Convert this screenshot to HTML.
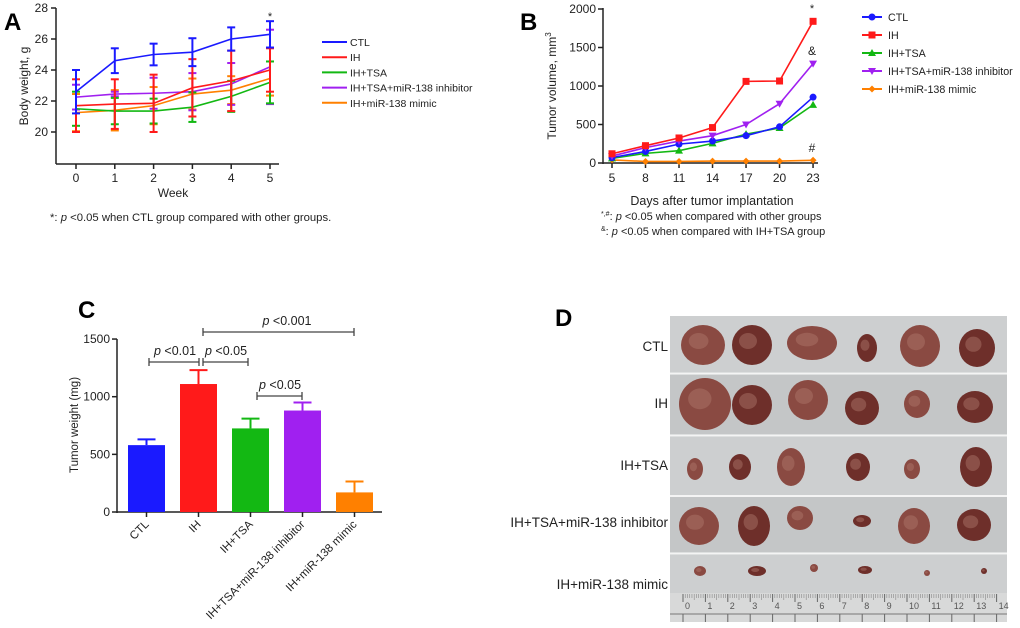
<!DOCTYPE html>
<html><head><meta charset="utf-8">
<style>
body{margin:0;background:#fff;width:1020px;height:628px;overflow:hidden;font-family:"Liberation Sans",Arial,sans-serif}
svg{position:absolute;left:0;top:0}
text{font-family:"Liberation Sans",Arial,sans-serif}
</style></head>
<body>
<svg id="fig" width="1020" height="628" viewBox="0 0 1020 628"></svg>
<script>
// ---------- Panel A data ----------
const weeks=[0,1,2,3,4,5];
const aCTL=[22.6,24.6,25.0,25.15,26.0,26.3];
const aCTLerr=[1.4,0.8,0.7,0.9,0.75,0.85];
const aIH=[21.7,21.8,21.85,22.85,23.3,24.0];
const aIHerr=[1.7,1.6,1.85,1.85,1.95,1.4];
const aTSA=[21.5,21.35,21.35,21.6,22.3,23.2];
const aTSAerr=[1.1,0.85,0.8,0.95,1.0,1.35];
const aINH=[22.25,22.45,22.5,22.6,23.1,24.2];
const aINHerr=[0.8,0.15,1.0,1.2,1.35,2.4];
const aMIM=[21.25,21.4,21.7,22.45,22.7,23.45];
const aMIMerr=[1.2,1.3,1.2,1.0,0.9,1.1];
const aYTicks=[20,22,24,26,28];
// ---------- Panel B data ----------
const days=[5,8,11,14,17,20,23];
const bCTL=[70,150,245,285,355,470,855];
const bIH=[120,225,325,460,1060,1065,1840];
const bTSA=[60,125,160,255,375,455,755];
const bINH=[90,200,285,355,500,770,1290];
const bMIM=[40,20,20,25,25,25,35];
const bYTicks=[0,500,1000,1500,2000];
// ---------- Panel C data ----------
const cCats=["CTL","IH","IH+TSA","IH+TSA+miR-138 inhibitor","IH+miR-138 mimic"];
const cVals=[580,1110,725,880,170];
const cErr=[50,120,85,70,95];
const cYTicks=[0,500,1000,1500];

const NS="http://www.w3.org/2000/svg";
const svg=document.getElementById('fig');
function mk(tag,attrs,parent){const e=document.createElementNS(NS,tag);for(const k in attrs)e.setAttribute(k,attrs[k]);(parent||svg).appendChild(e);return e;}
function txt(x,y,s,attrs,parent){const t=mk('text',Object.assign({x:x,y:y,'font-size':11,fill:'#222'},attrs||{}),parent);t.textContent=s;return t;}
const colors=["#1a1aff","#ff1a1a","#13b813","#a020f0","#ff8000"];
const names=["CTL","IH","IH+TSA","IH+TSA+miR-138 inhibitor","IH+miR-138 mimic"];

// ================= Panel A =================
const gA=mk('g',{});


const ax=w=>76+w*38.8;
const ay=v=>132-(v-20)*15.5;
txt(4,30,"A",{'font-size':24,'font-weight':'bold',fill:'#000'},gA);
mk('line',{x1:56,y1:8,x2:56,y2:164,stroke:'#222','stroke-width':1.5},gA);
mk('line',{x1:56,y1:164,x2:279,y2:164,stroke:'#222','stroke-width':1.5},gA);
aYTicks.forEach(v=>{mk('line',{x1:51,y1:ay(v),x2:56,y2:ay(v),stroke:'#222','stroke-width':1.5},gA);
 const t=txt(48,ay(v)+4,String(v),{'text-anchor':'end','font-size':12},gA);
 });
weeks.forEach(w=>{mk('line',{x1:ax(w),y1:164,x2:ax(w),y2:169,stroke:'#222','stroke-width':1.5},gA);
 const t=txt(ax(w),182,String(w),{'text-anchor':'middle','font-size':12},gA);
 });
const atx=txt(173,197,"Week",{'text-anchor':'middle','font-size':12},gA);

const aty=txt(0,0,"Body weight, g",{'text-anchor':'middle','font-size':12,transform:'translate(28,86) rotate(-90)'},gA);

txt(270,20,"*",{'text-anchor':'middle','font-size':11},gA);
const aSeries=[[aCTL,aCTLerr],[aIH,aIHerr],[aTSA,aTSAerr],[aINH,aINHerr],[aMIM,aMIMerr]];
[4,3,2,1,0].forEach(i=>{
 const [vals,errs]=aSeries[i];
 const g=mk('g',{},gA);
 
 
 vals.forEach((v,k)=>{const x=ax(weeks[k]);
  mk('line',{x1:x,y1:ay(v+errs[k]),x2:x,y2:ay(v-errs[k]),stroke:colors[i],'stroke-width':2},g);
  mk('line',{x1:x-4,y1:ay(v+errs[k]),x2:x+4,y2:ay(v+errs[k]),stroke:colors[i],'stroke-width':2},g);
  mk('line',{x1:x-4,y1:ay(v-errs[k]),x2:x+4,y2:ay(v-errs[k]),stroke:colors[i],'stroke-width':2},g);});
 mk('polyline',{points:vals.map((v,k)=>ax(weeks[k])+','+ay(v)).join(' '),fill:'none',stroke:colors[i],'stroke-width':1.6},g);
});
names.forEach((n,i)=>{const y=42+i*15.2;
 const g=mk('g',{},gA);
 
 
 mk('line',{x1:322,y1:y,x2:347,y2:y,stroke:colors[i],'stroke-width':2},g);
 txt(350,y+4,n,{'font-size':10.5},g);});
const an=txt(50,221,"",{'font-size':11.3},gA);

an.innerHTML='*: <tspan font-style="italic">p</tspan> &lt;0.05 when CTL group compared with other groups.';

// ================= Panel B =================
const gB=mk('g',{});


const bx=d=>612+(d-5)*11.17;
const by=v=>163-v*0.077;
txt(520,30,"B",{'font-size':24,'font-weight':'bold',fill:'#000'},gB);
mk('line',{x1:603,y1:8,x2:603,y2:164,stroke:'#222','stroke-width':1.5},gB);
mk('line',{x1:603,y1:163,x2:818,y2:163,stroke:'#222','stroke-width':1.5},gB);
bYTicks.forEach(v=>{mk('line',{x1:598,y1:by(v),x2:603,y2:by(v),stroke:'#222','stroke-width':1.5},gB);
 const t=txt(596,by(v)+4,String(v),{'text-anchor':'end','font-size':12},gB);
 });
days.forEach(d=>{mk('line',{x1:bx(d),y1:163,x2:bx(d),y2:168,stroke:'#222','stroke-width':1.5},gB);
 const t=txt(bx(d),182,String(d),{'text-anchor':'middle','font-size':12},gB);
 });
txt(712,205,"Days after tumor implantation",{'text-anchor':'middle','font-size':12.5},gB);
const bty=mk('text',{'text-anchor':'middle','font-size':12,fill:'#222',transform:'translate(556,86) rotate(-90)'},gB);

bty.innerHTML='Tumor volume, mm<tspan dy="-5" font-size="8">3</tspan>';
txt(812,12,"*",{'text-anchor':'middle','font-size':11},gB);
txt(812,55,"&",{'text-anchor':'middle','font-size':12},gB);
txt(812,152,"#",{'text-anchor':'middle','font-size':12},gB);
function marker(shape,x,y,c,g){
 if(shape===0)mk('circle',{cx:x,cy:y,r:3.5,fill:c},g);
 else if(shape===1)mk('rect',{x:x-3.5,y:y-3.5,width:7,height:7,fill:c},g);
 else if(shape===2)mk('polygon',{points:`${x},${y-4} ${x+4},${y+3} ${x-4},${y+3}`,fill:c},g);
 else if(shape===3)mk('polygon',{points:`${x},${y+4} ${x+4},${y-3} ${x-4},${y-3}`,fill:c},g);
 else mk('polygon',{points:`${x},${y-3.5} ${x+3.5},${y} ${x},${y+3.5} ${x-3.5},${y}`,fill:c},g);}
const bSeries=[bCTL,bIH,bTSA,bINH,bMIM];
[4,2,0,3,1].forEach(i=>{
 const g=mk('g',{},gB);
 
 
 mk('polyline',{points:bSeries[i].map((v,k)=>bx(days[k])+','+by(v)).join(' '),fill:'none',stroke:colors[i],'stroke-width':1.6},g);
 bSeries[i].forEach((v,k)=>marker(i,bx(days[k]),by(v),colors[i],g));
});
names.forEach((n,i)=>{const y=17+i*18;
 const g=mk('g',{},gB);
 
 
 mk('line',{x1:862,y1:y,x2:882,y2:y,stroke:colors[i],'stroke-width':2},g);
 marker(i,872,y,colors[i],g);
 txt(888,y+4,n,{'font-size':10.7},g);});
const bn1=txt(601,220,"",{'font-size':11},gB);

bn1.innerHTML='<tspan font-size="7" dy="-4">*,#</tspan><tspan dy="4">: </tspan><tspan font-style="italic">p</tspan> &lt;0.05 when compared with other groups';
const bn2=txt(601,235,"",{'font-size':11},gB);

bn2.innerHTML='<tspan font-size="7" dy="-4">&amp;</tspan><tspan dy="4">:  </tspan><tspan font-style="italic">p</tspan> &lt;0.05 when compared with IH+TSA group';

// ================= Panel C =================
const gC=mk('g',{});


const cx=i=>146.5+i*52;
const cy=v=>512-v*0.1153;
txt(78,318,"C",{'font-size':24,'font-weight':'bold',fill:'#000'},gC);
mk('line',{x1:117,y1:339,x2:117,y2:513,stroke:'#222','stroke-width':1.5},gC);
mk('line',{x1:117,y1:512,x2:382,y2:512,stroke:'#222','stroke-width':1.5},gC);
cYTicks.forEach(v=>{mk('line',{x1:112,y1:cy(v),x2:117,y2:cy(v),stroke:'#222','stroke-width':1.5},gC);
 const t=txt(110,cy(v)+4,String(v),{'text-anchor':'end','font-size':12},gC);
 });
txt(0,0,"Tumor weight (mg)",{'text-anchor':'middle','font-size':11.5,transform:'translate(78,425) rotate(-90)'},gC);
cVals.forEach((v,i)=>{const x=cx(i);
 const g=mk('g',{},gC);
 
 
 mk('line',{x1:x,y1:cy(v),x2:x,y2:cy(v+cErr[i]),stroke:colors[i],'stroke-width':2},g);
 mk('line',{x1:x-9,y1:cy(v+cErr[i]),x2:x+9,y2:cy(v+cErr[i]),stroke:colors[i],'stroke-width':2},g);
 mk('rect',{x:x-18.5,y:cy(v),width:37,height:512-cy(v),fill:colors[i]},g);
 mk('line',{x1:x,y1:512,x2:x,y2:517,stroke:'#222','stroke-width':1.5},gC);
 const t=txt(0,0,cCats[i],{'text-anchor':'end','font-size':11.5,transform:`translate(${x+3},${525}) rotate(-45)`},gC);
 
});
function bracket(x1,x2,y,label,lx){
 const g=mk('g',{},gC);
 
 
 mk('line',{x1:x1,y1:y,x2:x2,y2:y,stroke:'#444','stroke-width':1.3},g);
 mk('line',{x1:x1,y1:y-4,x2:x1,y2:y+4,stroke:'#444','stroke-width':1.3},g);
 mk('line',{x1:x2,y1:y-4,x2:x2,y2:y+4,stroke:'#444','stroke-width':1.3},g);
 const t=txt(lx,y-7,"",{'text-anchor':'middle','font-size':12.5},g);
 t.innerHTML='<tspan font-style="italic">p</tspan> &lt;'+label;}
bracket(149,199,362,"0.01",175);
bracket(203,248,362,"0.05",226);
bracket(257,302,396,"0.05",280);
bracket(203,354,332,"0.001",287);

// ================= Panel D =================
const gD=mk('g',{});


txt(555,326,"D",{'font-size':24,'font-weight':'bold',fill:'#000'},gD);
mk('rect',{x:670,y:316,width:337,height:306,fill:'#c9cbcc'},gD);
const rowsY=[[316,372],[375,434],[437,495],[497,552],[555,622]];
rowsY.forEach((r,i)=>{mk('rect',{x:670,y:r[0],width:337,height:r[1]-r[0],fill:i%2?'#c4c6c7':'#cdcfd0'},gD);});
[373.5,435.5,496,553.5].forEach(y=>mk('line',{x1:670,y1:y,x2:1007,y2:y,stroke:'#f4f4f4','stroke-width':2},gD));
const rowLabels=[["CTL",351],["IH",408],["IH+TSA",470],["IH+TSA+miR-138 inhibitor",527],["IH+miR-138 mimic",589]];
rowLabels.forEach(([s,y])=>{const t=txt(668,y,s,{'text-anchor':'end','font-size':13.5},gD);});
const tumors=[
[[703,345,22,20],[752,345,20,20],[812,343,25,17],[867,348,10,14],[920,346,20,21],[977,348,18,19]],
[[705,404,26,26],[752,405,20,20],[808,400,20,20],[862,408,17,17],[917,404,13,14],[975,407,18,16]],
[[695,469,8,11],[740,467,11,13],[791,467,14,19],[858,467,12,14],[912,469,8,10],[976,467,16,20]],
[[699,526,20,19],[754,526,16,20],[800,518,13,12],[862,521,9,6],[914,526,16,18],[974,525,17,16]],
[[700,571,6,5],[757,571,9,5],[814,568,4,4],[865,570,7,4],[927,573,3,3],[984,571,3,3]]];
tumors.forEach(row=>row.forEach(([x,y,rx,ry],k)=>{
 const e=mk('ellipse',{cx:x,cy:y,rx:rx,ry:ry,fill:k%2?'#6e2f2a':'#8a4a42'},gD);
 
 mk('ellipse',{cx:x-rx*0.2,cy:y-ry*0.2,rx:rx*0.45,ry:ry*0.4,fill:'#b07a6c',opacity:0.45},gD);}));
mk('rect',{x:670,y:593,width:337,height:29,fill:'#d8d9d9'},gD);
mk('line',{x1:670,y1:614,x2:1007,y2:614,stroke:'#777','stroke-width':1},gD);
for(let i=0;i<=14;i++){const x=683+i*22.4;
 mk('line',{x1:x,y1:594,x2:x,y2:602,stroke:'#666','stroke-width':1},gD);
 mk('line',{x1:x,y1:614,x2:x,y2:622,stroke:'#666','stroke-width':1},gD);
 if(i<14)for(let j=1;j<10;j++)mk('line',{x1:x+j*2.24,y1:594,x2:x+j*2.24,y2:j==5?600:598,stroke:'#888','stroke-width':0.6},gD);
 txt(x+2,609,String(i),{'font-size':9,fill:'#555'},gD);}
</script>
</body></html>
